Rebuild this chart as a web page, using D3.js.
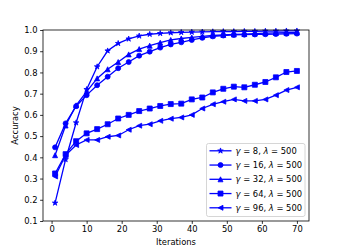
<!DOCTYPE html>
<html>
<head>
<meta charset="utf-8">
<script src="https://cdn.jsdelivr.net/npm/d3@7"></script>
<style>
    body { margin: 0; background: #fff; }
    text { font-family: "DejaVu Sans", sans-serif; fill: #000; }
</style>
</head>
<body>
<div id="chart"></div>
<script>

// Data ///////////////////////////////////////////////////////////////////////

const iterations = [1, 4, 7, 10, 13, 16, 19, 22, 25, 28, 31, 34,
    37, 40, 43, 46, 49, 52, 55, 58, 61, 64, 67, 70];

const gamma8 = [0.185, 0.39, 0.563, 0.72, 0.827, 0.902, 0.937, 0.958, 0.972, 0.98, 0.984, 0.987,
    0.989, 0.99, 0.991, 0.992, 0.993, 0.993, 0.994, 0.994, 0.995, 0.995, 0.996, 0.996];
const gamma16 = [0.447, 0.56, 0.641, 0.693, 0.74, 0.78, 0.82, 0.849, 0.879, 0.898, 0.917, 0.932,
    0.942, 0.953, 0.963, 0.97, 0.974, 0.977, 0.978, 0.979, 0.98, 0.981, 0.982, 0.983];
const gamma32 = [0.41, 0.55, 0.645, 0.71, 0.772, 0.815, 0.849, 0.885, 0.91, 0.926, 0.94, 0.953,
    0.96, 0.965, 0.97, 0.974, 0.977, 0.979, 0.981, 0.983, 0.985, 0.986, 0.987, 0.988];
const gamma64 = [0.324, 0.415, 0.476, 0.513, 0.533, 0.556, 0.583, 0.6, 0.618, 0.63, 0.642, 0.651,
    0.653, 0.673, 0.682, 0.706, 0.723, 0.733, 0.73, 0.742, 0.755, 0.777, 0.802, 0.807];
const gamma96 = [0.31, 0.41, 0.458, 0.482, 0.482, 0.497, 0.503, 0.53, 0.549, 0.556, 0.572, 0.582,
    0.588, 0.6, 0.63, 0.65, 0.662, 0.673, 0.666, 0.666, 0.673, 0.693, 0.717, 0.73];

const gammas = ["8", "16", "32", "64", "96"];
const seriesValues = [gamma8, gamma16, gamma32, gamma64, gamma96];
const markers = ["star", "circle", "triangleUp", "square", "triangleLeft"];

const xTicks = [0, 10, 20, 30, 40, 50, 60, 70];
const yTicks = [0.1, 0.2, 0.3, 0.4, 0.5, 0.6, 0.7, 0.8, 0.9, 1.0];


// Setup //////////////////////////////////////////////////////////////////////

const params = {
    width: 344,
    height: 249,
    left: 43,
    right: 309,
    top: 30,
    bottom: 221,
    fontSize: 8.4,
    tickLen: 2.9,
    ms: 5,
    color: "#0000ff"
};

const x = d3.scaleLinear().domain([-2.45, 73.45]).range([params.left, params.right]);
const y = d3.scaleLinear().domain([0.1, 1.0]).range([params.bottom, params.top]);

const svg = d3.select("#chart")
    .append("svg")
        .attr("width", params.width)
        .attr("height", params.height)
        .attr("viewBox", [0, 0, params.width, params.height]);


// Markers ////////////////////////////////////////////////////////////////////

function markerPath(type, s) {
    const h = s / 2;
    if (type === "circle") {
        return d3.symbol(d3.symbolCircle, Math.PI * h * h)();
    }
    if (type === "square") {
        return `M${-h},${-h}H${h}V${h}H${-h}Z`;
    }
    if (type === "triangleUp") {
        return `M0,${-h}L${-h},${h}L${h},${h}Z`;
    }
    if (type === "triangleLeft") {
        return `M${-h},0L${h},${-h}L${h},${h}Z`;
    }
    // star: 5 points, inner ratio 0.382
    const pts = d3.range(10).map(i => {
        const r = i % 2 === 0 ? h * 1.15 : h * 1.15 * 0.382;
        const a = Math.PI * i / 5;
        return [r * Math.sin(a), -r * Math.cos(a)];
    });
    return "M" + pts.join("L") + "Z";
}


// Axes ///////////////////////////////////////////////////////////////////////

const xAxis = svg.append("g")
    .attr("transform", `translate(0,${params.bottom})`)
    .call(d3.axisBottom(x).tickValues(xTicks).tickFormat(d3.format("d"))
        .tickSize(params.tickLen).tickPadding(2.6));

const yAxis = svg.append("g")
    .attr("transform", `translate(${params.left},0)`)
    .call(d3.axisLeft(y).tickValues(yTicks).tickFormat(d3.format(".1f"))
        .tickSize(params.tickLen).tickPadding(2.6));

[xAxis, yAxis].forEach(g => {
    g.select(".domain").remove();
    g.selectAll("line").attr("stroke", "#000").attr("stroke-width", 0.8);
    g.selectAll("text")
        .attr("font-family", "DejaVu Sans")
        .attr("font-size", params.fontSize)
        .attr("fill", "#000");
});

svg.append("text")
    .attr("x", (params.left + params.right) / 2)
    .attr("y", 245)
    .attr("text-anchor", "middle")
    .attr("font-size", params.fontSize)
    .text("Iterations");

svg.append("text")
    .attr("transform", `translate(17.5,${(params.top + params.bottom) / 2}) rotate(-90)`)
    .attr("text-anchor", "middle")
    .attr("font-size", params.fontSize)
    .text("Accuracy");


// Lines //////////////////////////////////////////////////////////////////////

const line = d3.line()
    .x((d, i) => x(iterations[i]))
    .y(d => y(d));

const plot = svg.append("g");

seriesValues.forEach((values, k) => {
    const g = plot.append("g");
    g.append("path")
        .attr("d", line(values))
        .attr("fill", "none")
        .attr("stroke", params.color)
        .attr("stroke-width", 1.3);
    g.selectAll("path.marker")
        .data(values)
        .join("path")
        .attr("class", "marker")
        .attr("transform", (d, i) => `translate(${x(iterations[i])},${y(d)})`)
        .attr("d", markerPath(markers[k], params.ms))
        .attr("fill", params.color)
        .attr("stroke", params.color)
        .attr("stroke-width", 0.8);
});

// Frame
svg.append("rect")
    .attr("x", params.left)
    .attr("y", params.top)
    .attr("width", params.right - params.left)
    .attr("height", params.bottom - params.top)
    .attr("fill", "none")
    .attr("stroke", "#000")
    .attr("stroke-width", 0.8);


// Legend /////////////////////////////////////////////////////////////////////

const legend = svg.append("g")
    .attr("transform", "translate(206.5,143.5)");

legend.append("rect")
    .attr("width", 98.5)
    .attr("height", 73)
    .attr("rx", 2)
    .attr("fill", "#fff")
    .attr("fill-opacity", 0.8)
    .attr("stroke", "#cccccc")
    .attr("stroke-width", 0.8);

const entry = legend.selectAll("g.entry")
    .data(gammas)
    .join("g")
    .attr("class", "entry")
    .attr("transform", (d, i) => `translate(0,${7.3 + i * 14.25})`);

entry.append("line")
    .attr("x1", 3)
    .attr("x2", 25)
    .attr("stroke", params.color)
    .attr("stroke-width", 1.3);

entry.append("path")
    .attr("transform", "translate(14,0)")
    .attr("d", (d, i) => markerPath(markers[i], params.ms))
    .attr("fill", params.color)
    .attr("stroke", params.color)
    .attr("stroke-width", 0.8);

const label = entry.append("text")
    .attr("x", 29)
    .attr("y", 3)
    .attr("font-size", params.fontSize);

label.append("tspan").attr("font-style", "italic").text("γ");
label.append("tspan").text(d => " = " + d + ", ");
label.append("tspan").attr("font-style", "italic").text("λ");
label.append("tspan").text(" = 500");

</script>
</body>
</html>
